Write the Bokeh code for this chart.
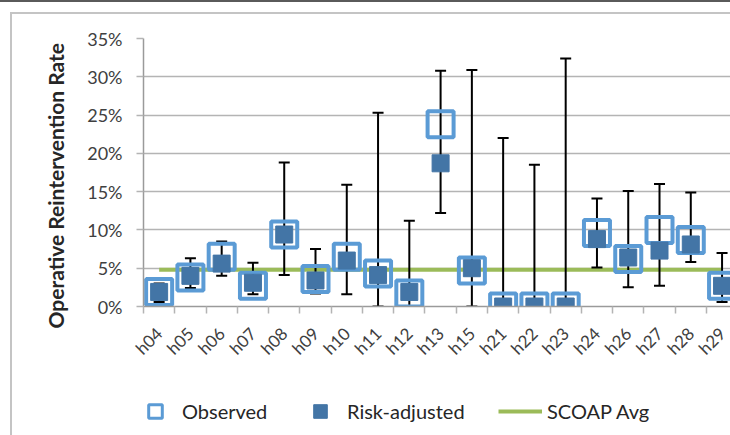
import math
from bokeh.plotting import figure
from bokeh.layouts import column
from bokeh.models import (ColumnDataSource, Range1d, FixedTicker, NumeralTickFormatter,
                          Legend, LegendItem, Title, InlineStyleSheet)
from bokeh.embed import file_html
from bokeh.resources import INLINE

# ---------------- data (percent) ----------------
hospitals = ["h04", "h05", "h06", "h07", "h08", "h09", "h10", "h11", "h12", "h13",
             "h15", "h21", "h22", "h23", "h24", "h26", "h27", "h28", "h29"]
observed = [1.9, 3.8, 6.5, 2.7, 9.4, 3.6, 6.5, 4.3, 1.7, 23.8,
            4.7, 0.0, 0.0, 0.0, 9.6, 6.2, 10.0, 8.7, 2.7]
risk_adjusted = [1.9, 4.0, 5.6, 3.1, 9.4, 3.4, 6.0, 4.1, 1.9, 18.7,
                 5.0, 0.0, 0.0, 0.0, 8.8, 6.4, 7.3, 8.1, 2.7]
ci_lower = [0.6, 2.4, 4.0, 1.6, 4.1, 1.7, 1.6, 0.0, 0.0, 12.2,
            0.0, 0.0, 0.0, 0.0, 5.1, 2.5, 2.7, 5.8, 0.6]
ci_upper = [3.0, 6.3, 8.5, 5.7, 18.8, 7.5, 15.9, 25.3, 11.2, 30.8,
            30.9, 22.0, 18.5, 32.4, 14.1, 15.1, 16.0, 14.9, 7.0]
scoap_avg = 4.8
y_tick_values = [0, 5, 10, 15, 20, 25, 30, 35]
legend_labels = ["Observed", "Risk-adjusted", "SCOAP Avg"]

FONT = "Lato"
OBS_COLOR = "#5b9bd5"
ADJ_COLOR = "#4375a6"
AVG_COLOR = "#9bbb59"
GRID_COLOR = "#b4b4b4"

n = len(hospitals)
xs = list(range(n))
src = ColumnDataSource(dict(
    x=xs,
    hospital=hospitals,
    obs=[v / 100 for v in observed],
    adj=[v / 100 for v in risk_adjusted],
    lo=[v / 100 for v in ci_lower],
    hi=[v / 100 for v in ci_upper],
))
avg_src = ColumnDataSource(dict(x=[xs[0], xs[-1]], y=[scoap_avg / 100] * 2))

MAIN_H = 380
p = figure(width=730, height=MAIN_H, output_backend="svg", toolbar_location=None,
           x_range=Range1d(-0.5, 18.27), y_range=Range1d(0, 0.35),
           min_border_left=143, min_border_right=0, min_border_top=38,
           min_border_bottom=MAIN_H - 306, outline_line_color=None,
           background_fill_color="white", border_fill_color="white")

# ---------------- axes ----------------
p.xgrid.visible = False
p.ygrid.ticker = FixedTicker(ticks=[v / 100 for v in y_tick_values])
p.ygrid.grid_line_color = GRID_COLOR
p.ygrid.grid_line_width = 1.5

yax = p.yaxis[0]
yax.ticker = FixedTicker(ticks=[v / 100 for v in y_tick_values])
yax.formatter = NumeralTickFormatter(format="0%")
yax.axis_line_color = "#9a9a9a"
yax.axis_line_width = 1.5
yax.major_tick_line_color = GRID_COLOR
yax.major_tick_line_width = 1.5
yax.major_tick_out = 7
yax.major_tick_in = 0
yax.minor_tick_line_color = None
yax.major_label_standoff = 14
yax.major_label_text_font = FONT
yax.major_label_text_font_size = "18px"
yax.major_label_text_color = "#404040"

xax = p.xaxis[0]
xax.ticker = FixedTicker(ticks=xs, minor_ticks=[i - 0.5 for i in range(n + 1)])
xax.major_label_overrides = {i: h for i, h in zip(xs, hospitals)}
xax.major_label_orientation = math.pi / 4
xax.axis_line_color = "#9a9a9a"
xax.axis_line_width = 1.5
xax.major_tick_out = 0
xax.major_tick_in = 0
xax.minor_tick_out = 7
xax.minor_tick_in = 0
xax.minor_tick_line_color = GRID_COLOR
xax.minor_tick_line_width = 1.5
xax.major_label_standoff = 17
xax.major_label_text_font = FONT
xax.major_label_text_font_size = "17px"
xax.major_label_text_color = "#404040"

# ---------------- glyphs ----------------
p.line("x", "y", source=avg_src, line_color=AVG_COLOR, line_width=4)
p.segment(x0="x", y0="lo", x1="x", y1="hi", source=src, line_color="black", line_width=2)
p.scatter("x", "hi", source=src, marker="dash", size=11, line_color="black", line_width=2)
p.scatter("x", "lo", source=src, marker="dash", size=11, line_color="black", line_width=2)
p.scatter("x", "obs", source=src, marker="square", size=26, fill_color=None,
          line_color=OBS_COLOR, line_width=4)
p.scatter("x", "adj", source=src, marker="square", size=17, fill_color=ADJ_COLOR,
          line_color=ADJ_COLOR, line_width=1)

# ---------------- y-axis title ----------------
p.add_layout(Title(text="Operative Reintervention Rate", align="left", offset=-22,
                   standoff=34, text_font=FONT, text_font_style="bold",
                   text_font_size="21px", text_color="#262626"), "left")

# ---------------- legend strip (separate figure below) ----------------
LEG_H = 435 - MAIN_H
lg = figure(width=730, height=LEG_H, output_backend="svg", toolbar_location=None,
            x_range=Range1d(0, 1), y_range=Range1d(0, 1),
            x_axis_type=None, y_axis_type=None, outline_line_color=None,
            min_border=0, border_fill_color="white", background_fill_color="white")
lg.grid.visible = False
# legend sample glyphs: one point each, placed outside the visible range
sample = dict(x=[-1.0], y=[-1.0])
leg_obs = lg.scatter("x", "y", source=ColumnDataSource(sample), marker="square",
                     fill_color=None, line_color=OBS_COLOR, line_width=3)
leg_adj = lg.scatter("x", "y", source=ColumnDataSource(sample), marker="square",
                     fill_color=ADJ_COLOR, line_color=ADJ_COLOR, line_width=1)
leg_avg = lg.line("x", "y", source=ColumnDataSource(dict(x=[-2.0, -1.0], y=[-1.0, -1.0])),
                  line_color=AVG_COLOR, line_width=4)

# the strip's frame is aligned with the chart's frame (left edge at 143 px)
for label, rend, xoff in zip(legend_labels, [leg_obs, leg_adj, leg_avg], [-10, 155, 355]):
    lg.add_layout(Legend(items=[LegendItem(label=label, renderers=[rend])],
                         location=(xoff, 7), orientation="horizontal",
                         glyph_width=44, glyph_height=34, label_standoff=5,
                         padding=0, margin=0, border_line_color=None,
                         background_fill_alpha=0, label_text_font=FONT,
                         label_text_font_size="20px", label_text_color="#262626"),
                  "center")

# chart-area frame lines (light grey left/top edge) and the dark top rule
frame_css = InlineStyleSheet(css="""
:host { position: relative; }
:host::before {
  content: ""; position: absolute; left: 10px; top: 12px; right: -20px; bottom: -20px;
  border-left: 2px solid #c4c4c4; border-top: 2px solid #c4c4c4;
  pointer-events: none; z-index: 10;
}
:host::after {
  content: ""; position: absolute; left: 0; top: 0; right: 0; height: 2px;
  background: #5a5a5a; pointer-events: none; z-index: 10;
}
""")

layout = column(p, lg, spacing=0, stylesheets=[frame_css])
open("out.html", "w").write(file_html(layout, INLINE))
